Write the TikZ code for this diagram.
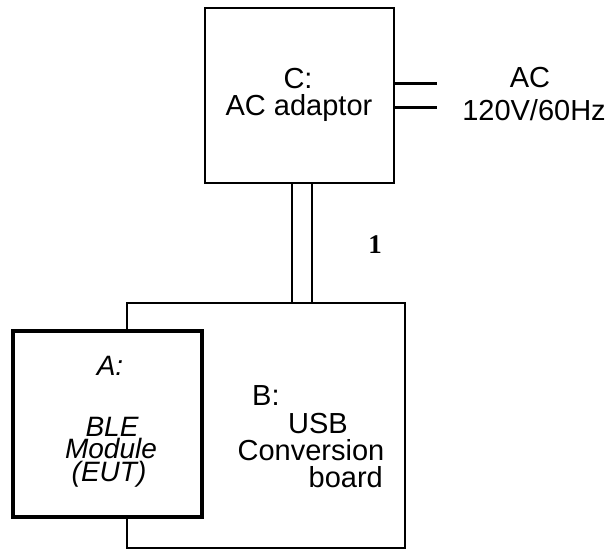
\documentclass[tikz,border=0pt]{standalone}
\usepackage{fontspec}
\setmainfont{Liberation Sans}
\newfontfamily\numfont{Liberation Serif}

\begin{document}
\begin{tikzpicture}[x=1pt,y=-1pt,
    blk/.style={draw,rectangle,inner sep=0pt,outer sep=0pt,fill=white},
    lbl/.style={inner sep=0pt,anchor=base,font=\fontsize{29}{27}\selectfont},
    ital/.style={lbl,font=\fontsize{28}{27}\selectfont\itshape},
    wire/.style={line width=2.8pt}]
    \useasboundingbox (0,0) rectangle (608,550);

    % boxes
    \node[blk,line width=1.3pt,minimum width=278,minimum height=245] (B) at (266,425.5) {};
    \node[blk,line width=2.7pt,minimum width=189,minimum height=175] (C) at (299.5,95.5) {};
    \node[blk,line width=4pt,minimum width=189,minimum height=186] (A) at (107.5,424) {};

    % C: adaptor
    \node[lbl] (Ct) at (298,88) {C:};
    \node[lbl] (Cn) at (299,115) {AC adaptor};

    % mains
    \coordinate (mains) at (437,95.5);
    \draw[wire] ([yshift=12]C.east) -- ([yshift=12]mains);
    \draw[wire] ([yshift=-12]C.east) -- ([yshift=-12]mains);
    \node[lbl] (ac) at (530,87) {AC};
    \node[lbl] (volt) at (534,120) {120V/60Hz};

    % cable 1
    \draw[wire] ([xshift=-7.5]C.south) -- ([xshift=-7.5]C.south |- B.north);
    \draw[wire] ([xshift=12.5]C.south) -- ([xshift=12.5]C.south |- B.north);
    \node[anchor=base,inner sep=0pt,font=\numfont\bfseries\fontsize{27}{27}\selectfont] (n1) at (375,253) {1};

    % A: EUT
    \node[ital] (At) at (110,375) {A:};
    \node[ital] (Ab) at (112,436) {BLE};
    \node[ital] (Am) at (111,458) {Module};
    \node[ital] (Ae) at (109,481) {(EUT)};

    % B: board
    \node[lbl,anchor=base west] (Bt) at (252,405) {B:};
    \node[lbl] (Bu) at (318,433) {USB};
    \node[lbl] (Bc) at (311,460) {Conversion};
    \node[lbl,anchor=base east] (Bb) at (383,487) {board};
\end{tikzpicture}
\end{document}
